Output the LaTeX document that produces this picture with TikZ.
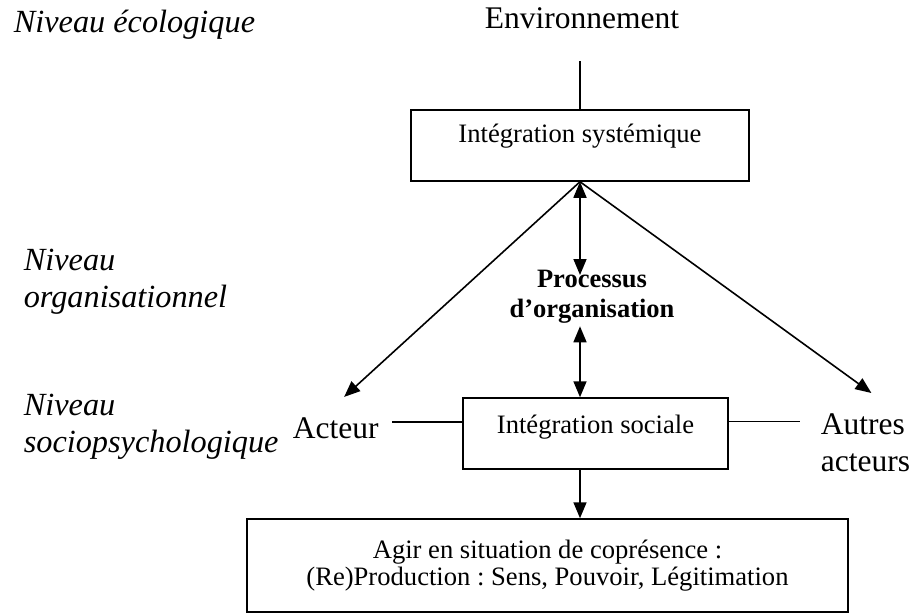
\documentclass[tikz,border=0pt]{standalone}
\usepackage{fontspec}
\setmainfont{Liberation Serif}
\usetikzlibrary{arrows.meta}
\frenchspacing

\begin{document}
\begin{tikzpicture}[x=1pt,y=-1pt,
  line width=1.6pt,
  tip/.style={-{Triangle[length=16pt,width=13pt]}},
  dtip/.style={{Triangle[length=16pt,width=13pt]}-{Triangle[length=16pt,width=13pt]}},
  frame/.style={draw, line width=1.5pt, inner sep=0pt},
  big/.style={font=\fontsize{31.5}{37.5}\selectfont, inner sep=0pt},
  level/.style={font=\fontsize{32.3}{37}\selectfont\itshape, inner sep=0pt, align=left},
  boxtext/.style={font=\fontsize{26.6}{27.5}\selectfont},
  proctext/.style={font=\fontsize{26.5}{30}\selectfont\bfseries, inner sep=0pt, align=center},
]
\useasboundingbox (0,0) rectangle (913,614);

% level labels on the left
\node[level, anchor=base west] (niv1) at (13,32) {Niveau écologique};
\node[level, anchor=north west] (niv2) at (23,248.6) {Niveau\\organisationnel};
\node[level, anchor=north west] (niv3) at (23,393.6) {Niveau\\sociopsychologique};

% top of the diagram
\node[big, anchor=base] (env) at (582,28) {Environnement};
\node[frame, boxtext, anchor=base, minimum width=338pt,
      text height=32pt, text depth=39pt] (sys) at (580,142) {Intégration systémique};

% organisation process
\node[proctext, anchor=north] (proc) at (592,269.5) {Processus\\d’organisation};

% actors and social integration
\node[big, anchor=base west] (acteur) at (292,438) {Acteur};
\node[big, anchor=north west, align=left] (autres) at (820,412.5) {Autres\\acteurs};
\node[frame, boxtext, anchor=base, minimum width=265pt,
      text height=35pt, text depth=36pt] (soc) at (595.5,433) {Intégration sociale};

% action box
\node[frame, boxtext, align=center, minimum width=601pt, minimum height=93pt]
  (agir) at (547.5,565.5) {Agir en situation de coprésence :\\(Re)Production : Sens, Pouvoir, Légitimation};

% connectors
\draw[shorten >=32pt] (sys.north) -- (sys.north |- env.south);
\draw[tip] (sys.south) -- ([shift={(8.5,-19.5)}]acteur.north);
\draw[tip] (sys.south) -- ([shift={(6,-19.5)}]autres.north);
\draw[dtip, shorten >=-5.5pt] (sys.south) -- (sys.south |- proc.north);
\draw[dtip, shorten <=2pt] (sys.south |- proc.south) -- (sys.south |- soc.north);
\draw[tip] (sys.south |- soc.south) -- (sys.south |- agir.north);
\draw ([shift={(13,-6)}]acteur.east) -- ([yshift=6pt]acteur.east -| soc.west);
\draw ([yshift=21pt]autres.west -| soc.east) -- ([shift={(-20,-21)}]autres.west);
\end{tikzpicture}
\end{document}
